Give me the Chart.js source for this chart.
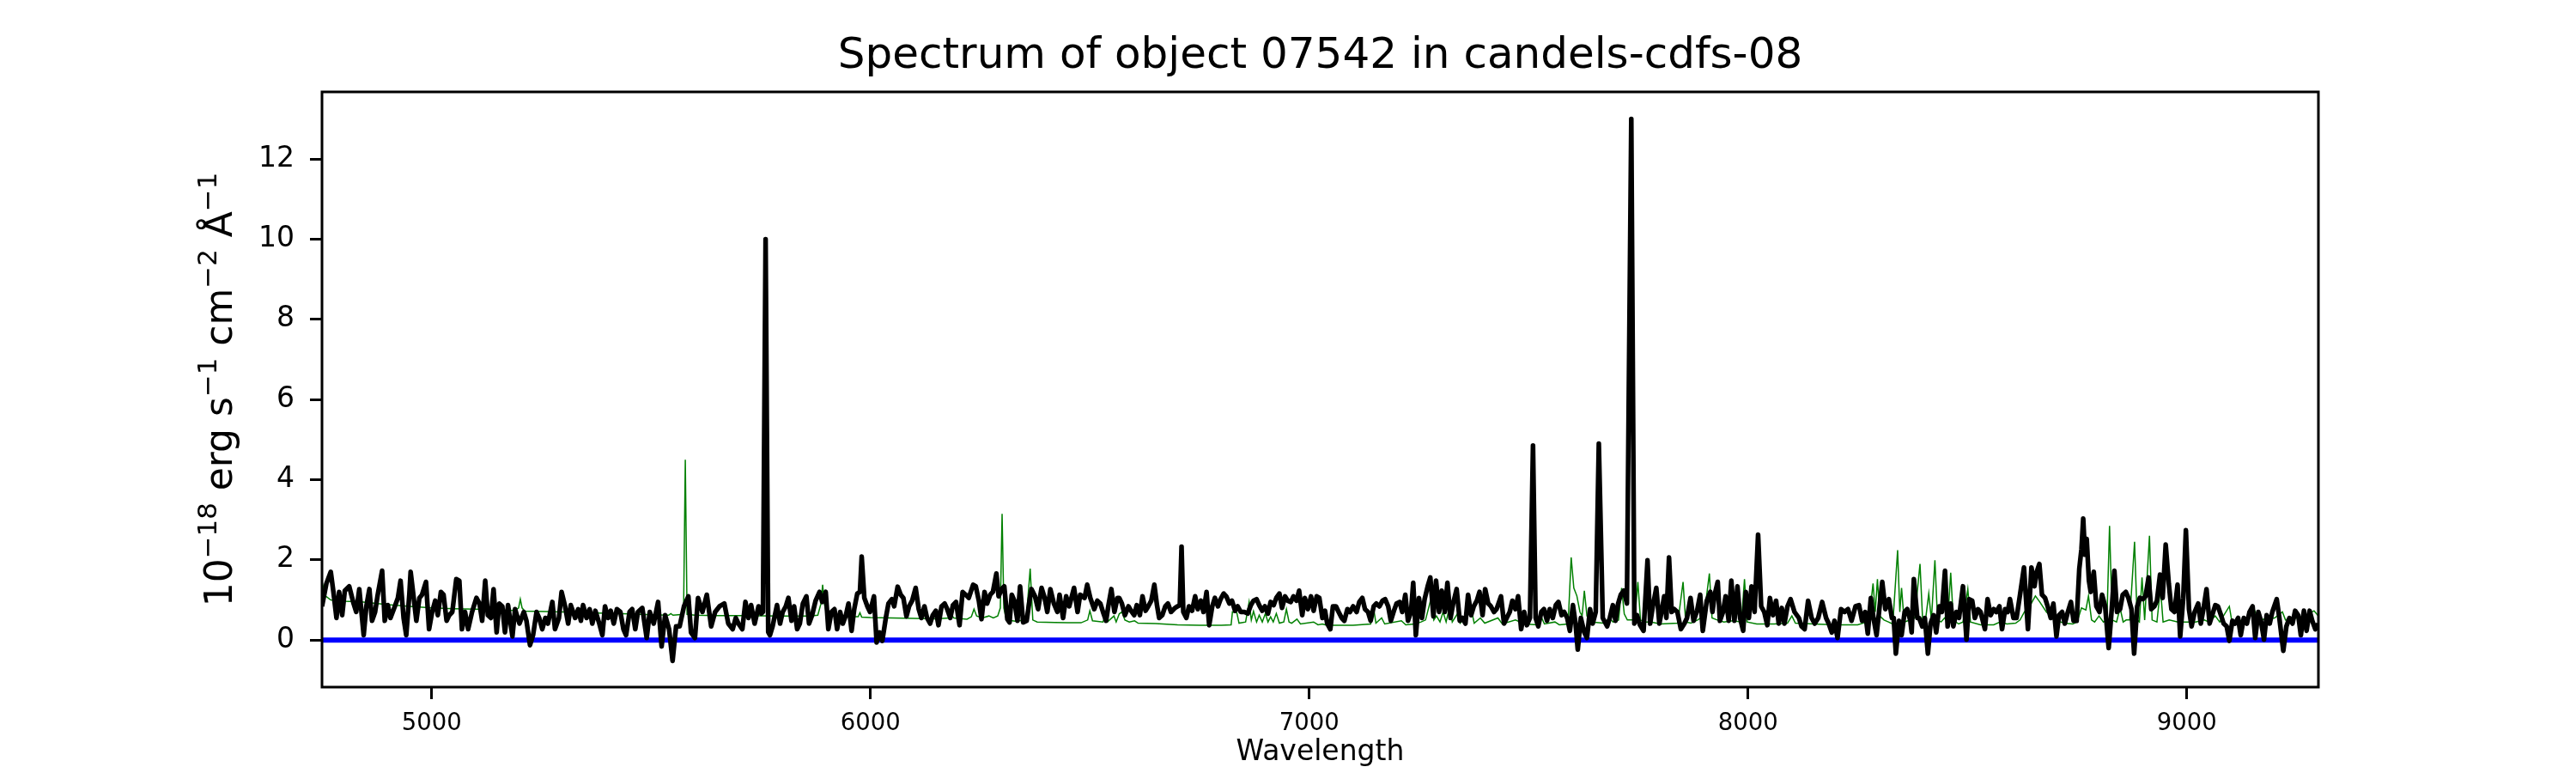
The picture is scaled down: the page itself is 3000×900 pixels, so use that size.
<!DOCTYPE html>
<html>
<head>
<meta charset="utf-8">
<script src="https://cdn.jsdelivr.net/npm/chart.js@4.4.1/dist/chart.umd.min.js"></script>
<style>
  html, body { margin: 0; padding: 0; background: #fff; }
  #wrap { width: 3000px; height: 900px; }
</style>
</head>
<body>
<div id="wrap"><canvas id="spec" width="3000" height="900"></canvas></div>
<script>
const titleText = "Spectrum of object 07542 in candels-cdfs-08";
const xTitle = "Wavelength";
// y label pieces: [text, isSuperscript]
const yLabelParts = [["10", 0], ["\u221218", 1], [" erg s", 0], ["\u22121", 1], [" cm", 0], ["\u22122", 1], [" \u00c5", 0], ["\u22121", 1]];
const xTicks = [5000, 6000, 7000, 8000, 9000];
const yTicks = [0, 2, 4, 6, 8, 10, 12];
const xRange = [4750, 9300];
const yRange = [-1.175, 13.675];

// object spectrum [wavelength, flux]
const objectSpec = [
  [4750,0.84],[4760,1.41],[4770,1.70],[4776,1.20],[4783,0.55],[4789,1.20],[4796,0.62],[4802,1.23],[4812,1.34],[4822,0.91],
  [4828,0.70],[4835,1.27],[4845,0.12],[4851,0.84],[4858,1.27],[4864,0.48],[4871,0.70],[4877,1.13],[4887,1.73],[4893,0.48],
  [4900,0.87],[4906,0.55],[4916,0.84],[4923,1.05],[4929,1.48],[4936,0.55],[4942,0.12],[4949,1.13],[4952,1.70],[4959,1.05],
  [4965,0.48],[4972,1.05],[4978,1.13],[4987,1.45],[4994,0.27],[5001,0.70],[5008,0.98],[5014,0.62],[5021,1.20],[5027,1.13],
  [5034,0.48],[5040,0.62],[5047,0.70],[5056,1.52],[5063,1.48],[5069,0.27],[5076,0.70],[5083,0.27],[5092,0.70],[5102,1.05],
  [5109,0.91],[5115,0.48],[5122,1.48],[5128,0.62],[5135,0.55],[5141,1.27],[5148,0.19],[5154,0.91],[5161,0.84],[5167,0.19],
  [5174,0.87],[5184,0.09],[5190,0.77],[5200,0.41],[5210,0.70],[5216,0.48],[5224,-0.13],[5231,0.12],[5239,0.70],[5245,0.55],
  [5252,0.27],[5259,0.55],[5265,0.41],[5275,0.95],[5281,0.27],[5290,0.55],[5296,1.20],[5304,0.84],[5311,0.41],[5317,0.87],
  [5327,0.55],[5334,0.77],[5340,0.48],[5345,0.87],[5353,0.55],[5360,0.77],[5366,0.41],[5373,0.73],[5382,0.41],[5389,0.12],
  [5395,0.84],[5402,0.55],[5408,0.73],[5415,0.41],[5422,0.77],[5430,0.70],[5437,0.27],[5443,0.12],[5451,0.70],[5457,0.77],
  [5464,0.27],[5470,0.70],[5480,0.80],[5490,0.05],[5497,0.70],[5506,0.41],[5516,0.95],[5524,-0.16],[5532,0.62],[5541,0.27],
  [5549,-0.52],[5557,0.34],[5565,0.34],[5575,0.84],[5585,1.09],[5591,0.19],[5600,0.05],[5607,1.05],[5617,0.70],[5627,1.13],
  [5637,0.34],[5646,0.70],[5656,0.84],[5667,0.91],[5676,0.41],[5686,0.27],[5693,0.55],[5699,0.41],[5708,0.27],[5715,0.95],
  [5722,0.55],[5728,0.87],[5736,0.41],[5745,0.84],[5751,0.66],[5755,0.70],[5761,10.0],[5767,0.20],[5771,0.12],[5777,0.34],
  [5787,0.87],[5794,0.41],[5800,0.70],[5807,0.84],[5813,1.05],[5820,0.48],[5826,0.84],[5833,0.27],[5839,0.41],[5846,0.91],
  [5854,1.09],[5860,0.41],[5867,0.62],[5875,0.98],[5884,1.20],[5890,0.95],[5898,1.20],[5904,0.27],[5911,0.70],[5918,0.77],
  [5924,0.27],[5931,0.70],[5937,0.41],[5944,0.62],[5950,0.91],[5957,0.23],[5963,0.77],[5970,1.16],[5976,1.20],[5980,2.08],
  [5986,1.05],[5993,0.84],[5999,0.70],[6008,1.09],[6014,-0.06],[6021,0.19],[6027,-0.02],[6035,0.55],[6041,0.91],[6049,1.02],
  [6054,0.84],[6062,1.33],[6069,1.13],[6075,1.05],[6082,0.59],[6088,0.84],[6095,0.98],[6103,1.30],[6110,0.77],[6116,0.55],
  [6123,0.84],[6129,0.55],[6136,0.41],[6142,0.62],[6149,0.73],[6155,0.37],[6162,0.84],[6169,0.91],[6175,0.77],[6182,0.55],
  [6188,0.87],[6195,0.95],[6203,0.37],[6210,1.20],[6217,1.13],[6224,1.05],[6234,1.38],[6240,1.34],[6247,0.98],[6253,0.52],
  [6260,1.20],[6266,0.91],[6273,1.13],[6279,1.20],[6287,1.66],[6292,1.09],[6299,1.27],[6305,1.34],[6312,0.52],[6317,0.44],
  [6322,1.13],[6328,0.98],[6335,0.48],[6341,1.34],[6348,0.44],[6356,0.48],[6362,0.95],[6367,1.27],[6375,1.09],[6382,0.77],
  [6390,1.30],[6397,1.05],[6403,0.70],[6410,1.27],[6418,0.91],[6426,0.70],[6431,1.13],[6439,0.55],[6446,1.09],[6453,0.84],
  [6464,1.30],[6472,0.70],[6478,1.13],[6488,1.05],[6494,1.38],[6501,1.05],[6510,0.77],[6517,0.98],[6524,0.91],[6530,0.70],
  [6537,0.48],[6542,0.84],[6549,1.27],[6556,0.70],[6563,1.05],[6567,1.05],[6573,0.91],[6580,0.62],[6588,0.84],[6594,0.73],
  [6601,0.62],[6607,0.87],[6614,0.62],[6620,1.09],[6627,0.73],[6633,0.84],[6640,0.98],[6647,1.38],[6653,0.87],[6658,0.55],
  [6665,0.62],[6672,0.84],[6678,0.91],[6685,0.70],[6694,0.80],[6700,0.84],[6705,0.87],[6709,2.33],[6713,0.70],[6720,0.55],
  [6726,0.84],[6733,0.73],[6740,1.09],[6746,0.77],[6753,0.98],[6759,0.70],[6766,1.20],[6772,0.37],[6779,0.84],[6785,1.05],
  [6792,0.84],[6798,1.02],[6805,1.16],[6811,1.09],[6818,0.91],[6824,0.98],[6831,0.73],[6837,0.84],[6844,0.70],[6852,0.70],
  [6860,0.66],[6867,0.87],[6873,0.98],[6880,1.02],[6886,0.87],[6893,0.73],[6899,0.84],[6906,0.66],[6912,0.95],[6919,0.87],
  [6925,1.05],[6932,1.16],[6938,0.80],[6945,1.09],[6951,0.98],[6958,0.95],[6964,1.09],[6971,0.98],[6977,1.23],[6984,0.62],
  [6990,1.05],[6997,0.77],[7004,1.09],[7010,0.73],[7017,1.09],[7023,1.05],[7030,0.55],[7036,0.73],[7041,0.41],[7048,0.27],
  [7054,0.84],[7061,0.84],[7067,0.70],[7074,0.55],[7080,0.48],[7087,0.77],[7093,0.70],[7100,0.84],[7108,0.70],[7114,0.95],
  [7121,1.05],[7127,0.77],[7134,0.70],[7140,0.48],[7147,0.84],[7153,0.91],[7160,0.84],[7167,0.98],[7173,1.02],[7180,0.84],
  [7186,0.48],[7193,0.73],[7199,0.91],[7206,0.95],[7212,0.70],[7219,1.13],[7225,0.48],[7232,0.70],[7237,1.43],[7243,0.12],
  [7250,1.05],[7257,0.55],[7263,1.02],[7270,1.34],[7276,1.56],[7283,0.59],[7289,1.48],[7296,0.70],[7302,1.23],[7309,0.70],
  [7315,1.43],[7322,0.55],[7328,0.91],[7336,1.27],[7343,0.48],[7349,0.55],[7356,0.41],[7362,1.13],[7369,0.62],[7375,0.84],
  [7382,0.98],[7388,1.20],[7395,0.62],[7401,1.27],[7408,0.91],[7414,0.84],[7421,0.70],[7427,0.77],[7437,1.09],[7444,0.41],
  [7450,0.55],[7457,0.70],[7463,0.98],[7470,0.77],[7476,1.09],[7483,0.27],[7490,0.70],[7496,0.37],[7503,0.55],[7510,4.85],
  [7516,0.55],[7522,0.34],[7529,0.70],[7535,0.77],[7542,0.48],[7548,0.77],[7555,0.55],[7562,0.87],[7568,0.95],[7575,0.62],
  [7581,0.70],[7588,0.55],[7594,0.23],[7601,0.87],[7607,0.41],[7612,-0.24],[7619,0.55],[7627,0.19],[7633,0.05],[7640,0.77],
  [7646,0.41],[7653,0.70],[7660,4.90],[7669,0.55],[7679,0.34],[7685,0.55],[7692,0.87],[7698,0.48],[7704,0.91],[7710,1.13],
  [7717,1.23],[7724,0.91],[7734,13.0],[7741,0.41],[7747,0.62],[7754,0.37],[7762,0.23],[7767,1.20],[7771,1.99],[7777,0.41],
  [7783,0.84],[7791,1.30],[7798,0.41],[7804,0.77],[7809,1.09],[7814,0.55],[7820,2.06],[7826,0.70],[7832,0.77],[7839,0.70],
  [7847,0.27],[7855,0.41],[7861,0.55],[7869,1.05],[7876,0.48],[7884,0.73],[7891,1.13],[7897,0.23],[7906,0.98],[7914,1.20],
  [7919,0.70],[7924,1.13],[7931,1.45],[7936,0.48],[7943,0.70],[7949,1.09],[7956,0.48],[7962,1.48],[7969,0.48],[7976,1.34],
  [7982,0.55],[7989,0.23],[7995,1.20],[8002,0.55],[8008,1.34],[8015,0.70],[8023,2.63],[8030,0.84],[8037,0.70],[8044,0.37],
  [8050,1.05],[8057,0.62],[8064,0.98],[8070,0.41],[8077,0.80],[8083,0.41],[8090,0.84],[8097,1.02],[8106,0.70],[8116,0.55],
  [8122,0.34],[8129,0.27],[8137,0.98],[8145,0.55],[8152,0.41],[8160,0.55],[8169,0.95],[8178,0.55],[8184,0.41],[8191,0.19],
  [8197,0.48],[8204,0.05],[8212,0.77],[8220,0.70],[8228,0.77],[8236,0.48],[8245,0.84],[8253,0.87],[8260,0.48],[8267,0.70],
  [8273,0.16],[8280,1.05],[8286,0.55],[8293,0.12],[8300,0.84],[8306,1.45],[8313,0.77],[8321,1.02],[8328,0.55],[8332,0.55],
  [8337,-0.34],[8344,0.48],[8350,0.12],[8357,0.70],[8363,0.77],[8370,0.48],[8373,0.19],[8378,1.52],[8386,0.55],[8390,0.55],
  [8397,0.34],[8403,0.55],[8410,-0.34],[8416,0.41],[8423,0.62],[8429,0.19],[8436,0.84],[8442,0.70],[8449,1.73],[8455,0.34],
  [8462,0.91],[8468,0.34],[8475,0.70],[8481,0.55],[8490,1.34],[8498,0.01],[8504,1.02],[8511,0.98],[8517,0.55],[8524,0.77],
  [8530,0.70],[8540,0.27],[8546,1.02],[8553,0.62],[8560,0.77],[8566,0.70],[8573,0.84],[8579,0.27],[8586,0.77],[8592,0.70],
  [8597,1.02],[8605,0.55],[8612,0.55],[8620,1.13],[8629,1.81],[8638,0.27],[8646,1.81],[8653,1.34],[8658,1.70],[8664,1.90],
  [8670,1.13],[8677,1.05],[8683,0.84],[8690,0.55],[8696,0.91],[8703,0.09],[8709,0.62],[8716,0.70],[8722,0.41],[8729,0.70],
  [8736,0.95],[8742,0.48],[8749,0.48],[8755,1.77],[8760,2.27],[8764,3.03],[8768,2.13],[8772,2.52],[8777,1.48],[8781,1.20],
  [8788,1.70],[8794,0.84],[8801,0.70],[8807,1.13],[8814,0.84],[8822,-0.20],[8829,0.77],[8835,1.73],[8841,0.70],[8848,0.77],
  [8854,1.13],[8861,1.20],[8867,1.05],[8874,0.77],[8880,-0.34],[8887,0.84],[8893,1.05],[8900,1.02],[8906,1.09],[8913,1.56],
  [8919,0.77],[8926,0.84],[8932,0.98],[8939,1.63],[8945,1.05],[8952,2.38],[8959,1.41],[8965,0.77],[8972,0.70],[8979,1.38],
  [8985,0.09],[8992,1.05],[8998,2.74],[9005,0.77],[9011,0.34],[9018,0.70],[9026,0.91],[9032,0.41],[9039,0.84],[9045,1.27],
  [9052,0.41],[9058,0.62],[9065,0.87],[9071,0.84],[9078,0.62],[9084,0.41],[9091,0.34],[9097,-0.02],[9104,0.48],[9110,0.41],
  [9117,0.55],[9123,0.12],[9130,0.55],[9137,0.41],[9143,0.70],[9150,0.84],[9156,0.05],[9163,0.70],[9169,0.48],[9176,0.01],
  [9182,0.62],[9189,0.41],[9195,0.70],[9205,1.02],[9211,0.55],[9220,-0.27],[9227,0.34],[9234,0.55],[9241,0.41],[9247,0.73],
  [9254,0.62],[9260,0.12],[9267,0.73],[9273,0.23],[9280,0.73],[9286,0.48],[9293,0.27],[9300,0.41]
];

// sky / noise spectrum [wavelength, flux]
const skySpec = [
  [4750,1.45],[4758,1.10],[4770,1.00],[4800,0.97],[4840,0.95],[4900,0.88],[4950,0.84],[5000,0.80],[5050,0.78],[5100,0.77],
  [5150,0.75],[5190,0.74],[5198,0.80],[5202,1.02],[5206,0.80],[5212,0.72],[5260,0.71],[5300,0.70],[5350,0.68],[5400,0.67],
  [5450,0.65],[5500,0.63],[5540,0.62],[5545,0.66],[5550,0.62],[5574,0.64],[5578,4.50],[5582,0.64],[5600,0.62],[5650,0.61],
  [5700,0.61],[5800,0.60],[5860,0.60],[5880,0.62],[5887,0.90],[5891,1.38],[5895,0.90],[5900,0.65],[5920,0.60],[5950,0.58],
  [5972,0.58],[5976,0.68],[5980,0.57],[6000,0.56],[6050,0.55],[6100,0.54],[6150,0.53],[6180,0.55],[6185,0.62],[6190,0.55],
  [6220,0.52],[6230,0.58],[6236,0.77],[6242,0.60],[6255,0.55],[6270,0.60],[6280,0.55],[6290,0.60],[6296,0.80],[6300,3.15],
  [6304,0.80],[6310,0.50],[6330,0.47],[6355,0.50],[6364,1.78],[6370,0.50],[6380,0.45],[6420,0.44],[6450,0.43],[6480,0.43],
  [6495,0.50],[6500,0.73],[6506,0.48],[6530,0.45],[6535,0.62],[6540,0.45],[6555,0.60],[6560,0.45],[6567,0.65],[6573,0.70],
  [6580,0.50],[6590,0.45],[6602,0.48],[6610,0.42],[6650,0.41],[6700,0.38],[6750,0.37],[6800,0.37],[6822,0.38],[6825,0.70],
  [6835,0.68],[6840,0.42],[6855,0.45],[6863,0.95],[6868,0.50],[6873,0.72],[6880,0.45],[6886,0.62],[6893,0.45],[6900,0.66],
  [6906,0.45],[6912,0.58],[6918,0.45],[6925,0.66],[6932,0.42],[6942,0.45],[6948,0.77],[6954,0.45],[6960,0.42],[6972,0.52],
  [6980,0.40],[7010,0.45],[7020,0.38],[7030,0.40],[7040,0.37],[7100,0.37],[7140,0.40],[7147,0.77],[7152,0.42],[7165,0.55],
  [7172,0.40],[7210,0.48],[7220,0.38],[7240,0.40],[7255,0.45],[7265,0.50],[7278,1.05],[7284,0.50],[7290,0.60],[7298,0.45],
  [7305,0.70],[7312,0.45],[7320,0.84],[7326,0.45],[7338,0.66],[7344,0.42],[7370,0.73],[7376,0.42],[7390,0.55],[7400,0.42],
  [7430,0.55],[7440,0.40],[7470,0.50],[7480,0.45],[7490,0.40],[7520,0.38],[7530,0.55],[7536,0.40],[7560,0.45],[7570,0.38],
  [7590,0.40],[7597,2.06],[7603,1.30],[7610,1.10],[7617,0.70],[7622,0.60],[7627,1.23],[7633,0.60],[7645,0.45],[7670,0.42],
  [7685,0.55],[7692,0.45],[7705,0.50],[7712,1.30],[7718,0.65],[7725,0.50],[7742,0.50],[7749,1.45],[7755,0.50],[7765,0.45],
  [7780,0.45],[7800,0.40],[7840,0.42],[7852,1.45],[7858,0.45],[7870,0.42],[7885,0.50],[7900,0.60],[7912,1.66],[7918,0.55],
  [7930,0.50],[7945,0.45],[7965,0.48],[7985,0.45],[7992,1.52],[7998,0.45],[8020,0.40],[8060,0.40],[8090,0.42],[8100,0.60],
  [8108,0.42],[8150,0.40],[8200,0.38],[8250,0.38],[8270,0.45],[8280,0.90],[8285,1.41],[8290,0.70],[8295,1.52],[8300,0.60],
  [8310,0.50],[8320,0.45],[8330,0.40],[8341,2.24],[8346,0.70],[8350,1.30],[8356,0.45],[8370,0.50],[8380,0.55],[8392,1.90],
  [8398,0.50],[8404,0.45],[8412,1.16],[8418,0.50],[8426,1.99],[8432,0.50],[8440,0.45],[8448,0.55],[8455,0.45],[8462,1.68],
  [8468,0.50],[8480,0.40],[8490,0.45],[8501,1.27],[8507,0.45],[8530,0.38],[8560,0.38],[8575,0.45],[8590,0.40],[8610,0.42],
  [8620,0.50],[8630,0.70],[8645,0.90],[8655,1.10],[8665,0.95],[8680,0.70],[8700,0.50],[8720,0.42],[8740,0.40],[8750,0.45],
  [8760,0.80],[8770,0.75],[8776,1.10],[8783,0.50],[8790,0.45],[8800,0.60],[8810,0.45],[8818,0.50],[8824,2.85],[8830,0.50],
  [8840,0.45],[8848,0.80],[8855,0.45],[8862,0.50],[8870,0.50],[8881,2.45],[8887,0.50],[8892,0.45],[8898,1.56],[8904,0.50],
  [8915,2.60],[8921,0.50],[8932,0.45],[8940,1.30],[8946,0.45],[8960,0.50],[8980,0.45],[9000,0.45],[9020,0.45],[9040,0.50],
  [9050,0.45],[9065,0.60],[9075,0.45],[9097,0.84],[9103,0.45],[9130,0.50],[9155,0.73],[9162,0.50],[9200,0.55],[9218,0.70],
  [9225,0.50],[9250,0.55],[9270,0.60],[9290,0.73],[9300,0.60]
];

const zeroLine = [[4750, 0], [9300, 0]];

const toPts = arr => arr.map(p => ({ x: p[0], y: p[1] }));

const decor = {
  id: "decor",
  afterDatasetsDraw(chart) {
    const { ctx, chartArea: a } = chart;
    ctx.save();
    ctx.strokeStyle = "#000";
    ctx.lineWidth = 3;
    ctx.strokeRect(a.left, a.top, a.right - a.left, a.bottom - a.top);
    ctx.restore();
  },
  afterDraw(chart) {
    const { ctx, chartArea: a } = chart;
    ctx.save();
    ctx.fillStyle = "#000";
    // title
    ctx.font = '50px "DejaVu Sans"';
    ctx.textAlign = "center";
    ctx.textBaseline = "alphabetic";
    ctx.fillText(titleText, (a.left + a.right) / 2, 79);

    // y label with superscripts, rotated
    const F = 44, S = F * 0.7;
    const fontFor = sup => (sup ? S : F) + 'px "DejaVu Sans"';
    let total = 0;
    yLabelParts.forEach(([t, sup]) => { ctx.font = fontFor(sup); total += ctx.measureText(t).width; });
    ctx.translate(270, (a.top + a.bottom) / 2);
    ctx.rotate(-Math.PI / 2);
    ctx.textAlign = "left";
    let x = -total / 2;
    yLabelParts.forEach(([t, sup]) => {
      ctx.font = fontFor(sup);
      ctx.fillText(t, x, sup ? -F * 0.42 : 0);
      x += ctx.measureText(t).width;
    });
    ctx.restore();
  }
};

const ctx = document.getElementById("spec").getContext("2d");
const chart = new Chart(ctx, {
  type: "line",
  data: {
    datasets: [
      { data: toPts(objectSpec), borderColor: "#000", borderWidth: 5.5, pointRadius: 0, tension: 0, borderJoinStyle: "round" },
      { data: toPts(skySpec), borderColor: "#008000", borderWidth: 1.5, pointRadius: 0, tension: 0 },
      { data: toPts(zeroLine), borderColor: "#0000ff", borderWidth: 6, pointRadius: 0 }
    ]
  },
  options: {
    responsive: false,
    devicePixelRatio: 1,
    animation: false,
    events: [],
    layout: { padding: { left: 0, right: 300, top: 107, bottom: 0 } },
    plugins: { legend: { display: false }, title: { display: false }, tooltip: { enabled: false } },
    scales: {
      x: {
        type: "linear",
        min: xRange[0],
        max: xRange[1],
        afterBuildTicks: s => { s.ticks = xTicks.map(v => ({ value: v })); },
        afterFit: s => { s.height = 100; },
        grid: { drawOnChartArea: false, drawTicks: true, tickLength: 14, tickWidth: 3, tickColor: "#000" },
        border: { display: false },
        ticks: { color: "#000", padding: 12, maxRotation: 0, callback: v => String(v), font: { family: "DejaVu Sans", size: 27.5 } },
        title: { display: true, text: xTitle, color: "#000", padding: { top: 0, bottom: 4 }, font: { family: "DejaVu Sans", size: 33 } }
      },
      y: {
        type: "linear",
        min: yRange[0],
        max: yRange[1],
        afterBuildTicks: s => { s.ticks = yTicks.map(v => ({ value: v })); },
        afterFit: s => { s.width = 375; },
        grid: { drawOnChartArea: false, drawTicks: true, tickLength: 14, tickWidth: 3, tickColor: "#000" },
        border: { display: false },
        ticks: { color: "#000", padding: 18, callback: v => String(v), font: { family: "DejaVu Sans", size: 33 } }
      }
    }
  },
  plugins: [decor]
});
</script>
</body>
</html>
